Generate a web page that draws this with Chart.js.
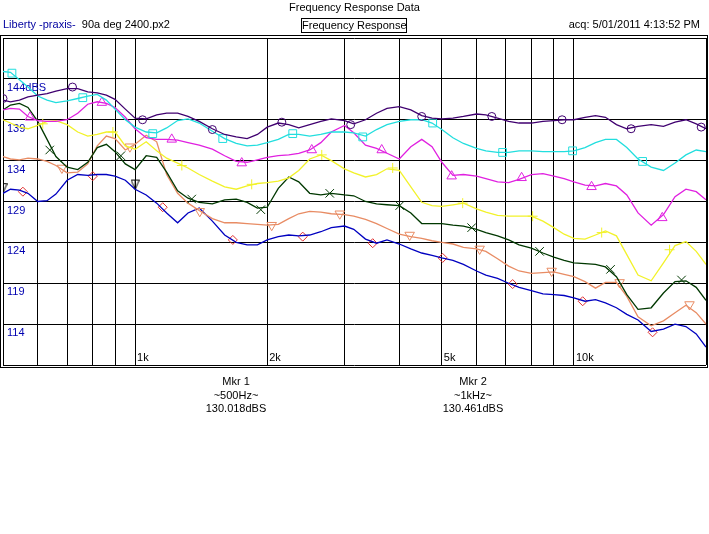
<!DOCTYPE html>
<html>
<head>
<meta charset="utf-8">
<title>Frequency Response Data</title>
<script src="https://cdn.jsdelivr.net/npm/chart.js@4.4.0/dist/chart.umd.min.js"></script>
<style>
  body { margin: 0; background: #fff; font-family: "Liberation Sans", Arial, sans-serif; font-size: 11px; color: #000; }
  #wrap { position: relative; width: 709px; height: 534px; overflow: hidden; }
  #frChart { position: absolute; left: 0; top: 0; }
  .t { position: absolute; white-space: nowrap; line-height: 13px; }
  .mkr { position: absolute; width: 120px; text-align: center; line-height: 13.5px; top: 375px; }
</style>
</head>
<body>
<div id="wrap">
  <canvas id="frChart" width="709" height="534"></canvas>
  <div class="t" style="left:0;width:709px;top:1px;text-align:center">Frequency Response Data</div>
  <div class="t" style="left:3px;top:18px"><span style="color:#0000a0">Liberty -praxis-</span>&nbsp; 90a deg 2400.px2</div>
  <div class="t" style="left:301px;top:18px;width:104px;height:13px;border:1px solid #000;text-align:center">Frequency Response</div>
  <div class="t" style="right:9px;top:18px">acq: 5/01/2011 4:13:52 PM</div>
  <div id="mkrText"></div>
</div>
<script>
// frequency points (Hz) shared by all traces
const freqs = [500, 520, 545, 570, 600, 630, 660, 700, 740, 780, 820, 860, 900, 950,
  1000, 1060, 1120, 1180, 1250, 1320, 1400, 1500, 1600, 1700, 1800, 1900,
  2000, 2120, 2240, 2360, 2500, 2650, 2800, 3000, 3150, 3350, 3550, 3750,
  4000, 4250, 4500, 4750, 5000, 5300, 5600, 6000, 6300, 6700, 7100, 7500, 8000, 8500, 9000, 9500,
  10000, 10600, 11200, 11800, 12500, 13200, 14000, 15000, 16000, 17000, 18000, 19000, 20000];

// dBS values, one array per trace
const purpleVals = [141.4, 141.2, 141.4, 141.8, 142.0, 142.2, 142.5, 142.8, 142.8, 142.4, 142.3, 142.0, 141.5, 140.3,
  139.2, 139.1, 139.6, 139.8, 139.8, 139.4, 138.8, 137.9, 137.2, 136.9, 136.7, 137.2,
  138.1, 138.6, 138.4, 138.0, 138.4, 138.8, 139.1, 138.9, 138.5, 139.0, 139.8, 140.4,
  140.6, 140.2, 139.5, 139.2, 139.1, 139.2, 139.4, 139.7, 139.6, 139.2, 138.8, 138.6, 138.6, 138.8, 138.9, 139.0,
  139.0, 139.3, 139.5, 139.3, 138.4, 137.9, 138.2, 138.4, 138.2, 138.7, 139.0, 138.5, 137.9];
const cyanVals = [144.9, 144.8, 143.9, 143.0, 141.9, 141.4, 141.1, 141.3, 141.6, 141.9, 142.1, 141.4, 140.3, 139.0,
  138.1, 137.5, 137.4, 138.0, 138.9, 139.1, 138.6, 137.6, 136.7, 136.1, 135.8, 135.9,
  136.2, 136.6, 137.2, 137.2, 137.0, 137.2, 137.5, 137.5, 137.4, 137.0, 137.8, 138.4,
  138.8, 139.0, 139.0, 138.6, 137.8, 136.8, 136.1, 135.5, 135.2, 135.0, 135.0, 135.2, 135.2, 135.1, 135.1, 135.1,
  135.2, 135.6, 136.2, 136.6, 136.6, 135.6, 134.2, 133.2, 132.8, 133.7, 134.7, 135.3, 135.1];
const magentaVals = [140.2, 140.4, 140.3, 139.4, 138.9, 138.8, 138.8, 139.0, 139.8, 140.9, 141.2, 141.0, 140.5, 139.3,
  137.9, 136.8, 136.6, 136.6, 136.5, 136.2, 135.9, 135.4, 134.6, 133.9, 133.8, 134.1,
  134.4, 134.6, 134.7, 134.9, 135.3, 136.2, 137.5, 138.3, 137.4, 135.9, 135.5, 134.9,
  134.2, 135.7, 136.6, 135.7, 133.8, 132.2, 132.3, 132.1, 131.8, 131.4, 131.3, 131.7, 132.3, 132.4, 132.1, 131.8,
  131.4, 131.0, 130.9, 131.2, 130.9, 129.8, 127.6, 126.1, 127.4, 129.6, 130.5, 130.2, 129.2];
const yellowVals = [139.0, 138.6, 138.1, 137.9, 138.3, 138.8, 138.9, 138.4, 137.5, 137.0, 137.2, 137.5, 137.5, 135.8,
  135.4, 136.3, 135.2, 134.3, 133.7, 133.1, 132.3, 131.5, 130.8, 130.5, 130.9, 131.2,
  131.3, 131.5, 131.9, 132.8, 134.2, 134.7, 134.0, 133.0, 132.5, 132.0, 132.3, 133.0,
  132.8, 130.8, 128.9, 128.5, 128.4, 128.6, 128.8, 128.1, 127.7, 127.3, 127.2, 127.2, 127.2, 126.6, 125.8, 125.0,
  124.5, 124.4, 124.9, 125.4, 124.8, 122.5, 120.0, 119.3, 121.5, 123.6, 124.1, 122.9, 121.3];
const greenVals = [140.2, 140.8, 141.0, 140.5, 138.8, 136.6, 134.5, 133.2, 132.9, 133.8, 135.6, 136.0, 135.1, 133.6,
  132.9, 134.6, 134.4, 132.6, 130.3, 129.4, 128.9, 128.7, 129.2, 129.3, 128.9, 128.2,
  128.3, 130.6, 132.0, 131.4, 130.0, 129.8, 130.0, 129.8, 129.7, 129.0, 128.7, 128.6,
  128.5, 127.6, 126.3, 126.3, 126.3, 126.1, 126.0, 125.6, 125.2, 124.8, 124.3, 123.7, 123.3, 122.7, 122.2, 121.8,
  121.5, 121.4, 121.3, 121.0, 119.8, 117.6, 115.8, 116.0, 117.8, 119.2, 119.3, 118.5, 116.9];
const orangeVals = [134.5, 134.2, 134.1, 134.3, 134.2, 133.9, 133.4, 132.5, 132.6, 133.6, 135.8, 137.0, 136.7, 135.3,
  136.0, 137.1, 136.3, 132.3, 130.0, 128.8, 127.9, 126.9, 126.4, 126.4, 126.3, 126.2,
  126.1, 126.2, 126.9, 127.5, 127.8, 127.7, 127.5, 127.4, 127.2, 126.8, 126.3, 125.7,
  125.0, 124.7, 124.5, 124.2, 124.0, 123.8, 123.4, 123.2, 122.9, 122.0, 121.1, 120.5, 120.2, 120.3, 120.4, 120.1,
  119.8, 119.2, 118.4, 119.1, 119.1, 117.4, 114.9, 113.8, 114.4, 115.4, 116.3, 115.4, 114.0];
const blueVals = [130.0, 130.5, 130.4, 130.0, 129.0, 129.1, 129.9, 131.6, 132.3, 132.2, 132.3, 132.3, 132.1, 131.6,
  130.5, 129.8, 128.8, 127.6, 126.4, 127.6, 128.2, 126.6, 124.9, 124.0, 123.7, 123.7,
  124.3, 124.7, 124.9, 124.8, 124.9, 125.3, 125.8, 126.0, 125.6, 124.4, 123.9, 124.3,
  123.8, 123.2, 122.7, 122.4, 122.1, 121.8, 121.3, 120.5, 120.0, 119.6, 119.0, 118.5, 118.1, 117.7, 117.6, 117.5,
  117.2, 116.8, 117.0, 116.6, 116.0, 115.2, 114.5, 113.1, 113.4, 114.0, 113.7, 112.8, 111.2];

// trace symbols: where they sit and their values
const purpleMkF = [500, 720, 1040, 1500, 2160, 3100, 4500, 6500, 9400, 13500, 19500];
const purpleMkV = [141.6, 143.0, 139.0, 137.8, 138.7, 138.4, 139.4, 139.4, 139.0, 137.9, 138.1];
const cyanMkF = [524, 760, 1097, 1584, 2287, 3302, 4766, 6880, 9932, 14340];
const cyanMkV = [144.7, 141.7, 137.3, 136.7, 137.3, 136.9, 138.6, 135.0, 135.2, 133.9];
const magentaMkF = [576, 840, 1212, 1750, 2527, 3648, 5265, 7600, 10970, 15900];
const magentaMkV = [139.3, 141.1, 136.6, 133.7, 135.3, 135.3, 132.1, 131.9, 130.8, 127.0];
const yellowMkF = [616, 890, 1278, 1844, 2663, 3864, 5579, 8053, 11570, 16520];
const yellowMkV = [138.5, 137.5, 133.4, 131.1, 134.7, 133.1, 128.8, 127.2, 125.2, 123.1];
const greenMkF = [639, 928, 1346, 1934, 2777, 4009, 5848, 8353, 12120, 17590];
const greenMkV = [135.3, 134.6, 129.3, 128.0, 130.0, 128.5, 125.8, 122.9, 120.7, 119.4];
const orangeMkF = [681, 973, 1404, 2048, 2927, 4224, 6098, 8898, 12710, 18340];
const orangeMkV = [133.1, 135.7, 127.8, 126.1, 127.5, 124.9, 123.2, 120.5, 119.1, 116.4];
const blueMkF = [555, 801, 1156, 1670, 2410, 3479, 5023, 7251, 10470, 15110];
const blueMkV = [130.2, 132.1, 128.3, 124.3, 124.7, 123.9, 122.1, 118.9, 116.8, 113.0];

// cursor markers
const mkrNames = ['Mkr 1', 'Mkr 2'];
const mkrFreqText = ['~500Hz~', '~1kHz~'];
const mkrFreqs = [500, 1000];
const mkrValues = [130.018, 130.461];

// axis grid and labels
const xGrid = [500, 600, 700, 800, 900, 1000, 2000, 3000, 4000, 5000, 6000, 7000, 8000, 9000, 10000, 20000];
const xLabelValues = [1000, 2000, 5000, 10000];
const xLabels = ['1k', '2k', '5k', '10k'];
const yGrid = [109, 114, 119, 124, 129, 134, 139, 144, 149];
const yLabelValues = [144, 139, 134, 129, 124, 119, 114];
const yLabels = ['144dBS', '139', '134', '129', '124', '119', '114'];

const traces = [
  { color: '#400070', vals: purpleVals, mkF: purpleMkF, mkV: purpleMkV, style: 'circle', r: 4, rot: 0 },
  { color: '#22dede', vals: cyanVals, mkF: cyanMkF, mkV: cyanMkV, style: 'rect', r: 5.5, rot: 0 },
  { color: '#e020e0', vals: magentaVals, mkF: magentaMkF, mkV: magentaMkV, style: 'triangle', r: 5.5, rot: 0 },
  { color: '#f2f22a', vals: yellowVals, mkF: yellowMkF, mkV: yellowMkV, style: 'cross', r: 5, rot: 0 },
  { color: '#003800', vals: greenVals, mkF: greenMkF, mkV: greenMkV, style: 'crossRot', r: 6, rot: 0 },
  { color: '#e88c64', vals: orangeVals, mkF: orangeMkF, mkV: orangeMkV, style: 'triangle', r: 5.5, rot: 180 },
  { color: '#0000c0', vals: blueVals, mkF: blueMkF, mkV: blueMkV, style: 'rectRot', r: 4.5, rot: 0, mkColor: '#e03030' }
];

// cursor symbol: down triangle whose tip sits on the point
const mkrImg = document.createElement('canvas');
mkrImg.width = 9;
mkrImg.height = 22;
const m = mkrImg.getContext('2d');
m.strokeStyle = '#000';
m.lineWidth = 1;
m.beginPath();
m.moveTo(0.5, 1.5); m.lineTo(8.5, 1.5); m.lineTo(4.5, 11); m.closePath();
m.moveTo(4.5, 1.5); m.lineTo(4.5, 11);
m.stroke();

const datasets = [];
traces.forEach(t => {
  datasets.push({
    data: freqs.map((f, i) => ({ x: f, y: t.vals[i] })),
    borderColor: t.color,
    borderWidth: 1.3,
    pointRadius: 0,
    tension: 0
  });
  datasets.push({
    data: t.mkF.map((f, i) => ({ x: f, y: t.mkV[i] })),
    showLine: false,
    pointStyle: t.style,
    pointRotation: t.rot,
    pointRadius: t.r,
    pointBorderColor: t.mkColor || t.color,
    pointBackgroundColor: 'rgba(0,0,0,0)',
    pointBorderWidth: 1
  });
});
datasets.push({
  data: mkrFreqs.map((f, i) => ({ x: f, y: mkrValues[i] })),
  showLine: false,
  pointStyle: mkrImg,
  pointRadius: 5
});

const frame = {
  id: 'frame',
  beforeDatasetsDraw(chart) {
    const { ctx, chartArea, scales } = chart;
    ctx.save();
    ctx.strokeStyle = '#000';
    ctx.lineWidth = 1;
    ctx.strokeRect(0.5, 35.5, 707, 332);
    ctx.font = '11px "Liberation Sans", Arial, sans-serif';
    ctx.textAlign = 'left';
    ctx.textBaseline = 'alphabetic';
    ctx.fillStyle = '#0000b0';
    yLabelValues.forEach((v, i) => {
      ctx.fillText(yLabels[i], chartArea.left + 4, scales.y.getPixelForValue(v) + 12);
    });
    ctx.fillStyle = '#000';
    xLabelValues.forEach((v, i) => {
      ctx.fillText(xLabels[i], scales.x.getPixelForValue(v) + 2, chartArea.bottom - 4);
    });
    ctx.restore();
  }
};

// axes take no room: the plot fills the padded area
const noRoom = s => {
  if (s.isHorizontal()) s.height = 0; else s.width = 0;
  s.paddingLeft = 0; s.paddingRight = 0; s.paddingTop = 0; s.paddingBottom = 0;
};

new Chart(document.getElementById('frChart'), {
  type: 'line',
  data: { datasets },
  options: {
    responsive: false,
    animation: false,
    devicePixelRatio: 1,
    layout: { autoPadding: false, padding: { left: 3, top: 38, right: 3, bottom: 169 } },
    plugins: { legend: { display: false }, tooltip: { enabled: false } },
    scales: {
      x: {
        type: 'logarithmic',
        min: 500,
        max: 20000,
        afterBuildTicks: s => { s.ticks = xGrid.map(v => ({ value: v })); },
        afterFit: noRoom,
        ticks: { display: false },
        grid: { color: '#000', lineWidth: 1, drawTicks: false },
        border: { display: false }
      },
      y: {
        type: 'linear',
        min: 109,
        max: 149,
        afterBuildTicks: s => { s.ticks = yGrid.map(v => ({ value: v })); },
        afterFit: noRoom,
        ticks: { display: false },
        grid: { color: '#000', lineWidth: 1, drawTicks: false },
        border: { display: false }
      }
    }
  },
  plugins: [frame]
});

// cursor readout below the plot
const mkrX = [176, 413];
document.getElementById('mkrText').innerHTML = mkrNames.map((n, i) =>
  `<div class="mkr" style="left:${mkrX[i]}px">${n}<br>${mkrFreqText[i]}<br>${mkrValues[i].toFixed(3)}dBS</div>`
).join('');
</script>
</body>
</html>
